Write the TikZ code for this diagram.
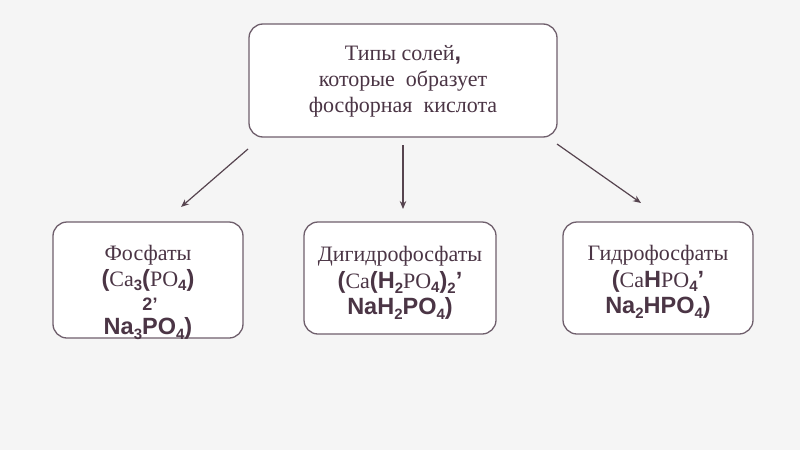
\documentclass[tikz,border=0pt]{standalone}
\usepackage{fontspec}
\setmainfont{Liberation Serif}
\setsansfont{Liberation Sans}
\usetikzlibrary{arrows.meta}
\definecolor{bgcol}{HTML}{F5F5F5}
\definecolor{bordercol}{HTML}{6F5F6C}
\definecolor{txtcol}{HTML}{4B3545}
\definecolor{arrcol}{HTML}{56444F}
\newcommand\bs[1]{{\sffamily\bfseries\fontsize{23.5}{25}\selectfont #1}}
\newcommand\sbs[1]{\raisebox{-0.4ex}{\fontsize{15}{15}\selectfont\sffamily\bfseries #1}}
\tikzset{
  box/.style={draw=bordercol, line width=1.3pt, fill=white, rounded corners=14pt},
  txt/.style={text=txtcol, align=center, inner sep=0pt, font=\fontsize{22}{26}\selectfont},
  conn/.style={draw=arrcol, line width=1.2pt, -{Stealth[length=8pt,width=6.5pt]}}
}
\begin{document}
\begin{tikzpicture}[x=1pt,y=-1pt]
\fill[bgcol] (0,0) rectangle (800,450);
\useasboundingbox (0,0) rectangle (800,450);
% boxes
\node[box, minimum width=308pt, minimum height=113pt] (top) at (403,80.5) {};
\node[box, minimum width=190pt, minimum height=116pt] (left) at (148,280) {};
\node[box, minimum width=192pt, minimum height=112pt] (mid) at (400,278) {};
\node[box, minimum width=190pt, minimum height=112pt] (right) at (658,278) {};
% texts
\node[txt] (toptxt) at (403,81)
  {Типы солей\bs{,}\\которые\ \ образует\\фосфорная\ \ кислота};
\node[txt] (l1) at (148,255) {Фосфаты};
\node[txt] (l2) at (148,280) {\bs{(}Ca\sbs{3}\bs{(}PO\sbs{4}\bs{)}};
\node[txt, font=\fontsize{18}{20}\selectfont\sffamily\bfseries] (l3) at (150,304) {2’};
\node[txt] (l4) at (148,329) {\bs{Na\sbs{3}PO\sbs{4})}};
\node[txt, font=\fontsize{22}{26.5}\selectfont] (midtxt) at (400,283)
  {Дигидрофосфаты\\\bs{(}Ca\bs{(H\sbs{2}}PO\sbs{4}\bs{)\sbs{2}’}\\\bs{NaH\sbs{2}PO\sbs{4})}};
\node[txt, font=\fontsize{22}{26.5}\selectfont] (righttxt) at (658,282)
  {Гидрофосфаты\\\bs{(}Ca\bs{H}PO\sbs{4}\bs{’}\\\bs{Na\sbs{2}HPO\sbs{4})}};
% arrow endpoints
\coordinate (a1s) at (248,149); \coordinate (a1e) at (181,207);
\coordinate (a2s) at (403,145); \coordinate (a2e) at (403,209);
\coordinate (a3s) at (557,144); \coordinate (a3e) at (641,203);
\draw[conn] (a1s) -- (a1e);
\draw[conn] (a2s) -- (a2e);
\draw[conn] (a3s) -- (a3e);
\end{tikzpicture}
\end{document}
